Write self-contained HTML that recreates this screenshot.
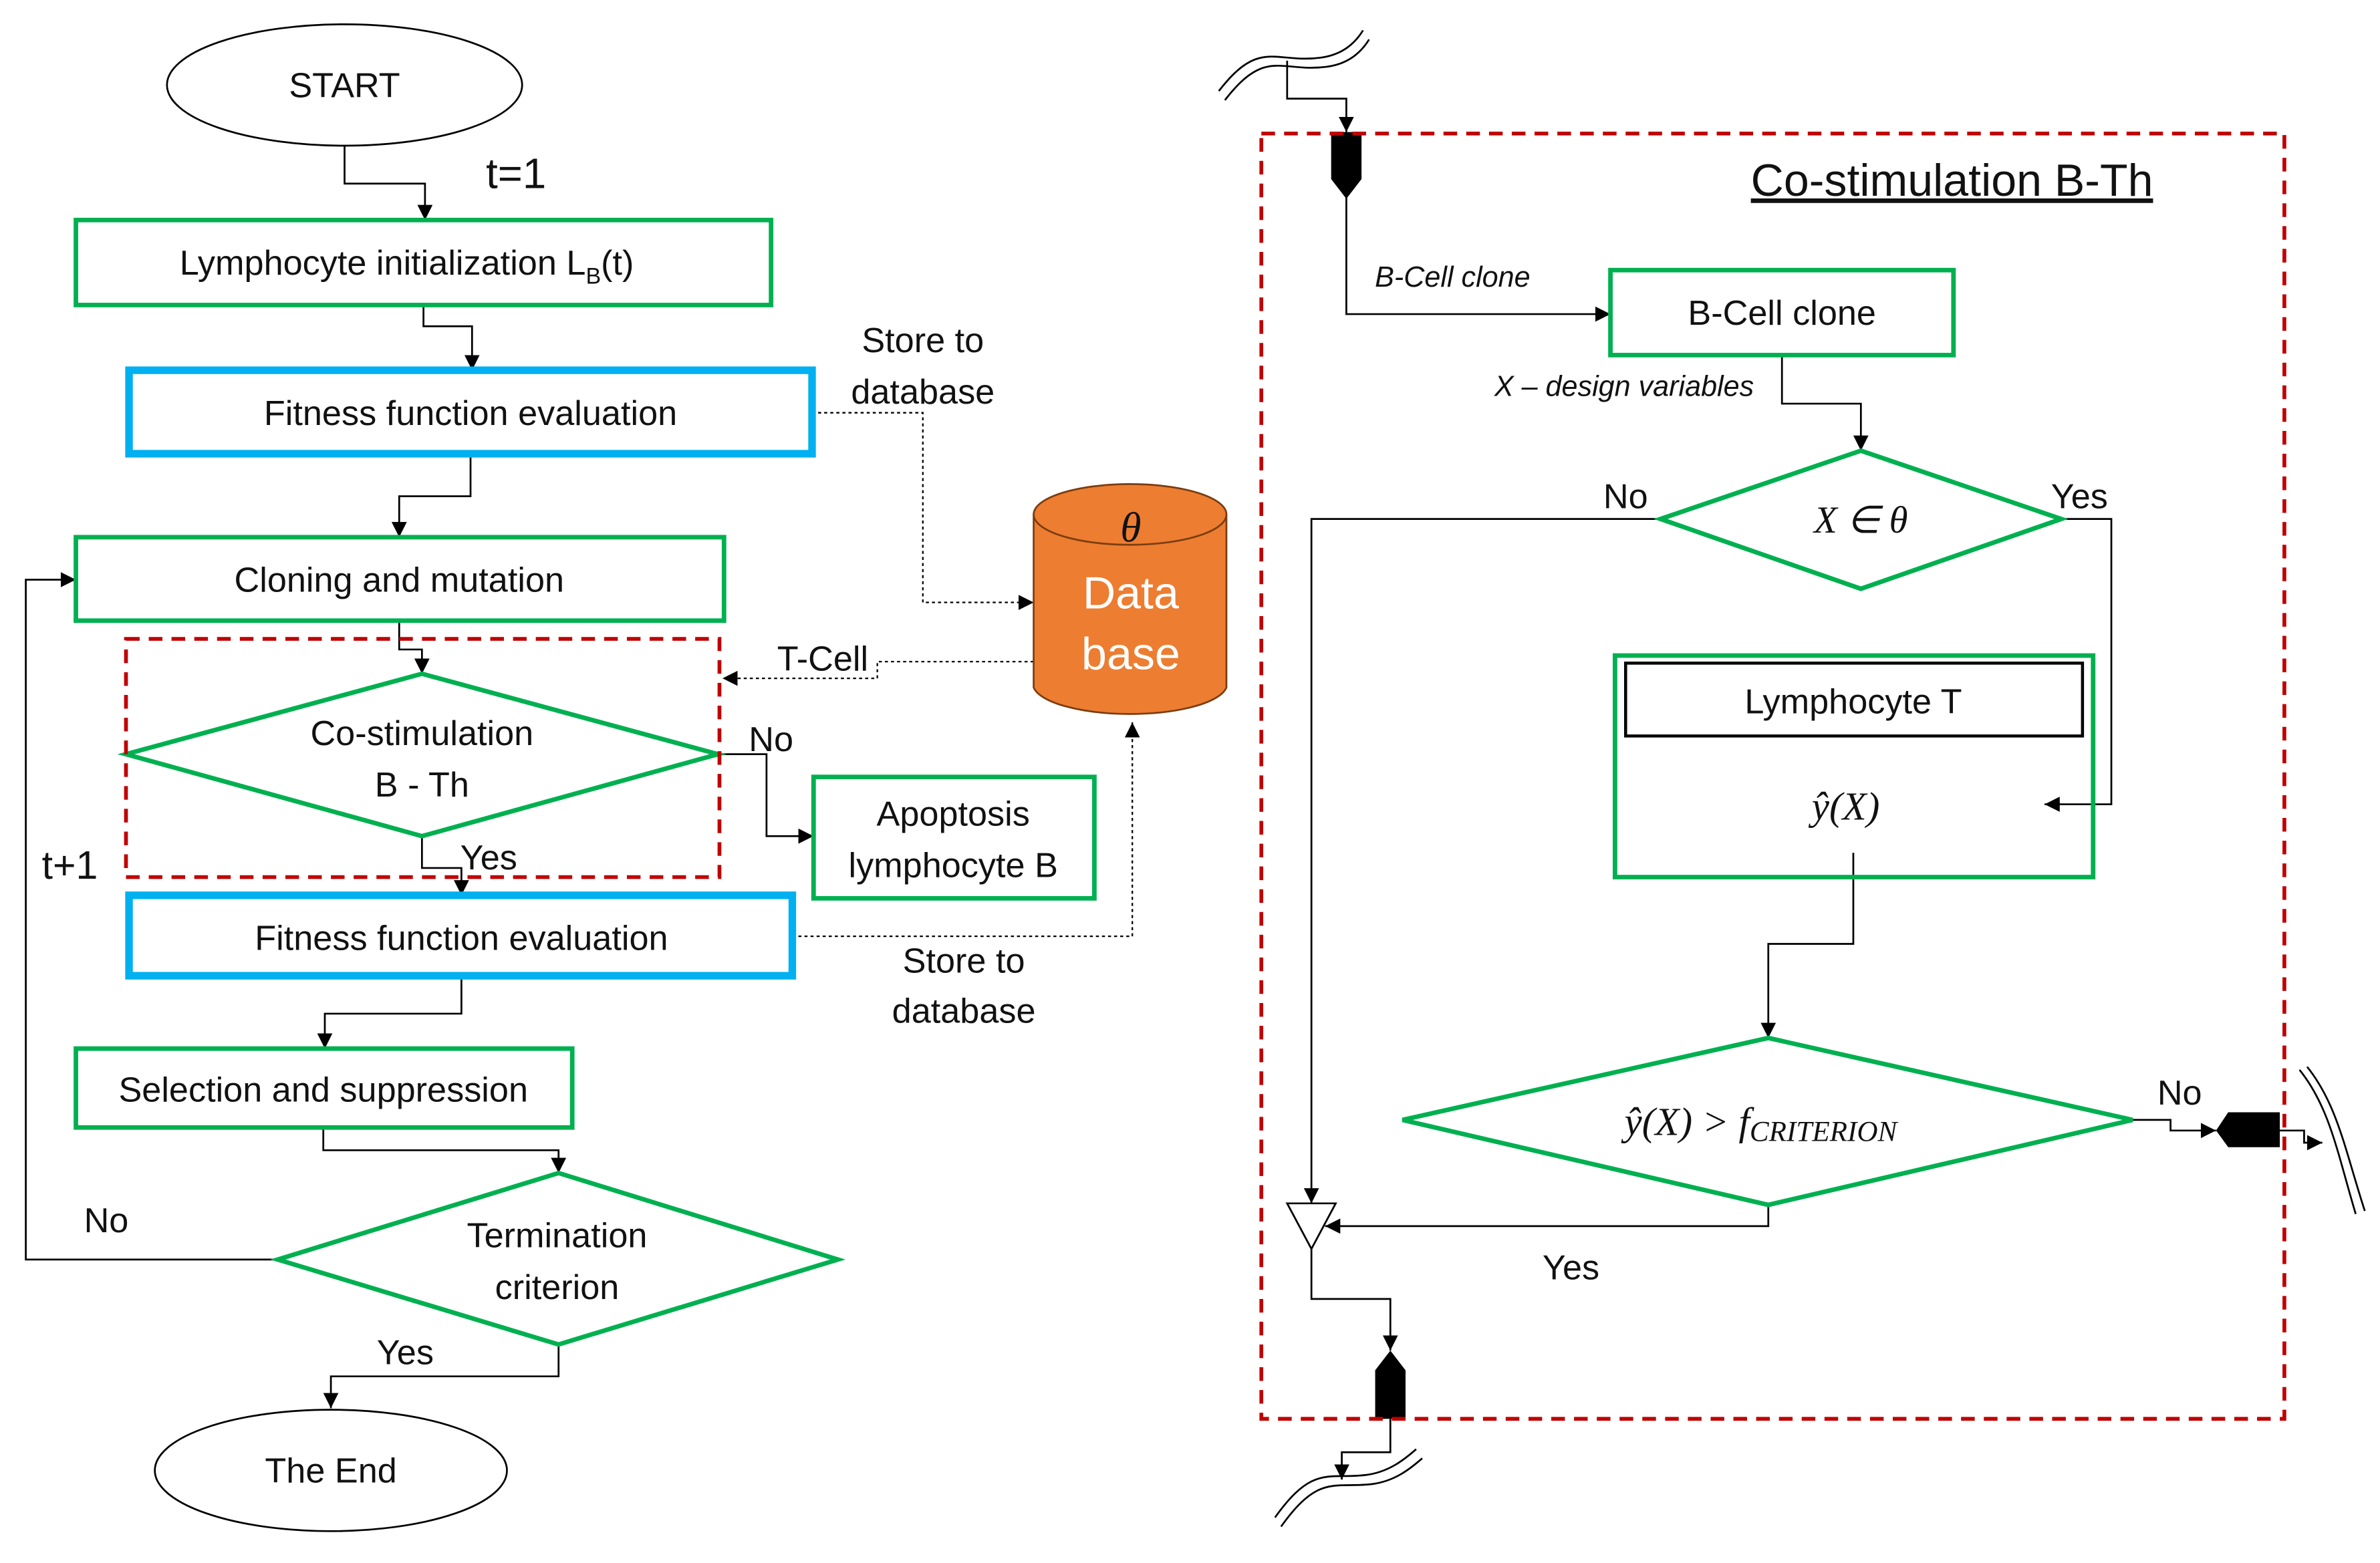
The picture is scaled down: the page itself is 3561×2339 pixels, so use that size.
<!DOCTYPE html>
<html><head><meta charset="utf-8">
<style>html,body{margin:0;padding:0;background:#fff}svg{display:block}
text{font-family:"Liberation Sans",sans-serif;fill:#111}</style></head>
<body>
<svg width="3561" height="2339" viewBox="0 0 1568 1030" preserveAspectRatio="none" xmlns="http://www.w3.org/2000/svg">
<defs>
<marker id="a" viewBox="0 0 10 10" refX="10" refY="5" markerWidth="10" markerHeight="10" markerUnits="userSpaceOnUse" orient="auto"><path d="M0,0L10,5L0,10z" fill="#000"/></marker>
</defs>
<g fill="none" stroke="#000" stroke-width="1.2">
<!-- left flow -->
<ellipse cx="227" cy="56" rx="117" ry="40"/>
<polyline points="227,96 227,121 280,121 280,145" marker-end="url(#a)"/>
<polyline points="279,201 279,215 311,215 311,244" marker-end="url(#a)"/>
<polyline points="310,299 310,327 263,327 263,354" marker-end="url(#a)"/>
<polyline points="263,409 263,428 278,428 278,444" marker-end="url(#a)"/>
<polyline points="473,497 505,497 505,551 536,551" marker-end="url(#a)"/>
<polyline points="278,551 278,572 304,572 304,590" marker-end="url(#a)"/>
<polyline points="304,643 304,668 214,668 214,691" marker-end="url(#a)"/>
<polyline points="213,743 213,758 368,758 368,773" marker-end="url(#a)"/>
<polyline points="183,830 17,830 17,382 50,382" marker-end="url(#a)"/>
<polyline points="368,886 368,907 218,907 218,928" marker-end="url(#a)"/>
<ellipse cx="218" cy="969" rx="116" ry="40"/>
<g stroke-dasharray="2,2" stroke-width="1">
<polyline points="522,617 746,617 746,476" marker-end="url(#a)"/>
<polyline points="535,272 608,272 608,397 681,397" marker-end="url(#a)"/>
<polyline points="681,436 578,436 578,447 476,447" marker-end="url(#a)"/>
</g>
<!-- right flow -->
<path d="M803,60 C830,25 840,42 870,38 C885,36 893,28 898,20"/>
<path d="M807,66 C834,31 844,48 874,44 C889,42 897,34 902,26"/>
<polyline points="848,40 848,65 887,65 887,87" marker-end="url(#a)"/>
<polyline points="887,130 887,207 1061,207" marker-end="url(#a)"/>
<polyline points="1174,234 1174,266 1226,266 1226,297" marker-end="url(#a)"/>
<polyline points="1094,342 864,342 864,793" marker-end="url(#a)"/>
<polyline points="1358,342 1391,342 1391,530 1347,530" marker-end="url(#a)"/>
<polyline points="1221,562 1221,622 1165,622 1165,684" marker-end="url(#a)"/>
<polyline points="1405,738 1430,738 1430,745 1460,745" marker-end="url(#a)"/>
<polyline points="1502,745 1518,745 1518,753 1530,753" marker-end="url(#a)"/>
<path d="M1515,705 C1535,730 1540,760 1552,800 M1520,703 C1540,728 1545,758 1558,798"/>
<polyline points="1165,794 1165,808 873,808" marker-end="url(#a)"/>
<path d="M848,793 L880,793 L864,823 Z" fill="#fff"/>
<polyline points="864,823 864,856 916,856 916,890" marker-end="url(#a)"/>
<polyline points="916,935 916,957 884,957 884,975" marker-end="url(#a)"/>
<path d="M840,1000 C865,965 875,975 900,972 C915,970 925,962 933,955"/>
<path d="M844,1006 C869,971 879,981 904,978 C919,976 929,968 937,961"/>
<rect x="1071" y="437" width="301" height="48" stroke-width="2"/>
</g>
<!-- black connectors -->
<path d="M877,87 L897,87 L897,118 L887,131 L877,118 Z" fill="#000"/>
<path d="M906,903 L916,890 L926,903 L926,935 L906,935 Z" fill="#000"/>
<path d="M1460,745 L1468,733 L1502,733 L1502,756 L1468,756 Z" fill="#000"/>
<!-- green boxes -->
<g fill="none" stroke="#00b050" stroke-width="3">
<rect x="50" y="145" width="458" height="56"/>
<rect x="50" y="354" width="427" height="55"/>
<polygon points="83,497 278,444 473,497 278,551"/>
<rect x="536" y="512" width="185" height="80"/>
<rect x="50" y="691" width="327" height="52"/>
<polygon points="183,830 368,773 552,830 368,886"/>
<rect x="1061" y="178" width="226" height="56"/>
<polygon points="1094,342 1226,297 1358,342 1226,388"/>
<rect x="1064" y="432" width="315" height="146"/>
<polygon points="924,738 1165,684 1405,738 1165,794"/>
</g>
<g fill="none" stroke="#00b0f0" stroke-width="5">
<rect x="85" y="244" width="450" height="55"/>
<rect x="85" y="590" width="437" height="53"/>
</g>
<g fill="none" stroke="#c00000" stroke-width="2.5" stroke-dasharray="9,6">
<rect x="83" y="421" width="391" height="157"/>
<rect x="831" y="88" width="674" height="847"/>
</g>
<!-- database -->
<path d="M681,339 L681,453 A64,20 0 0 0 808,453 L808,339" fill="#ed7d31" stroke="#7a3d10" stroke-width="1.2"/>
<ellipse cx="744.5" cy="339" rx="63.5" ry="20" fill="#ed7d31" stroke="#7a3d10" stroke-width="1.2"/>
<g text-anchor="middle" font-size="23">
<text x="227" y="64">START</text>
<text x="340" y="124" font-size="28">t=1</text>
<text x="268" y="181">Lymphocyte initialization L<tspan font-size="15" dy="6">B</tspan><tspan dy="-6">(t)</tspan></text>
<text x="310" y="280">Fitness function evaluation</text>
<text x="263" y="390">Cloning and mutation</text>
<text x="278" y="491">Co-stimulation</text>
<text x="278" y="525">B - Th</text>
<text x="508" y="495">No</text>
<text x="628" y="544">Apoptosis</text>
<text x="628" y="578">lymphocyte B</text>
<text x="322" y="573">Yes</text>
<text x="46" y="579" font-size="26">t+1</text>
<text x="304" y="626">Fitness function evaluation</text>
<text x="635" y="641">Store to</text>
<text x="635" y="674">database</text>
<text x="213" y="726">Selection and suppression</text>
<text x="367" y="822">Termination</text>
<text x="367" y="856">criterion</text>
<text x="70" y="812">No</text>
<text x="267" y="899">Yes</text>
<text x="218" y="977">The End</text>
<text x="608" y="232">Store to</text>
<text x="608" y="266">database</text>
<text x="542" y="442">T-Cell</text>
<text x="745" y="357" font-size="28" font-style="italic" font-family="Liberation Serif,serif" style="font-family:'Liberation Serif',serif">θ</text>
<text x="745" y="401" font-size="30" style="fill:#fff">Data</text>
<text x="745" y="441" font-size="30" style="fill:#fff">base</text>
<text x="1286" y="129" font-size="30" text-decoration="underline">Co-stimulation B-Th</text>
<text x="957" y="189" font-size="19" font-style="italic">B-Cell clone</text>
<text x="1174" y="214">B-Cell clone</text>
<text x="1070" y="261" font-size="19" font-style="italic">X – design variables</text>
<text x="1226" y="351" font-style="italic" style="font-family:'Liberation Serif',serif" font-size="25">X  ∈  θ</text>
<text x="1071" y="335">No</text>
<text x="1370" y="335">Yes</text>
<text x="1221" y="470">Lymphocyte T</text>
<text x="1216" y="540" font-style="italic" style="font-family:'Liberation Serif',serif" font-size="26">ŷ(X)</text>
<text x="1160" y="748" font-style="italic" style="font-family:'Liberation Serif',serif" font-size="26">ŷ(X) &gt; f<tspan font-size="19" dy="4">CRITERION</tspan></text>
<text x="1436" y="728">No</text>
<text x="1035" y="843">Yes</text>
</g>
</svg>
</body></html>
